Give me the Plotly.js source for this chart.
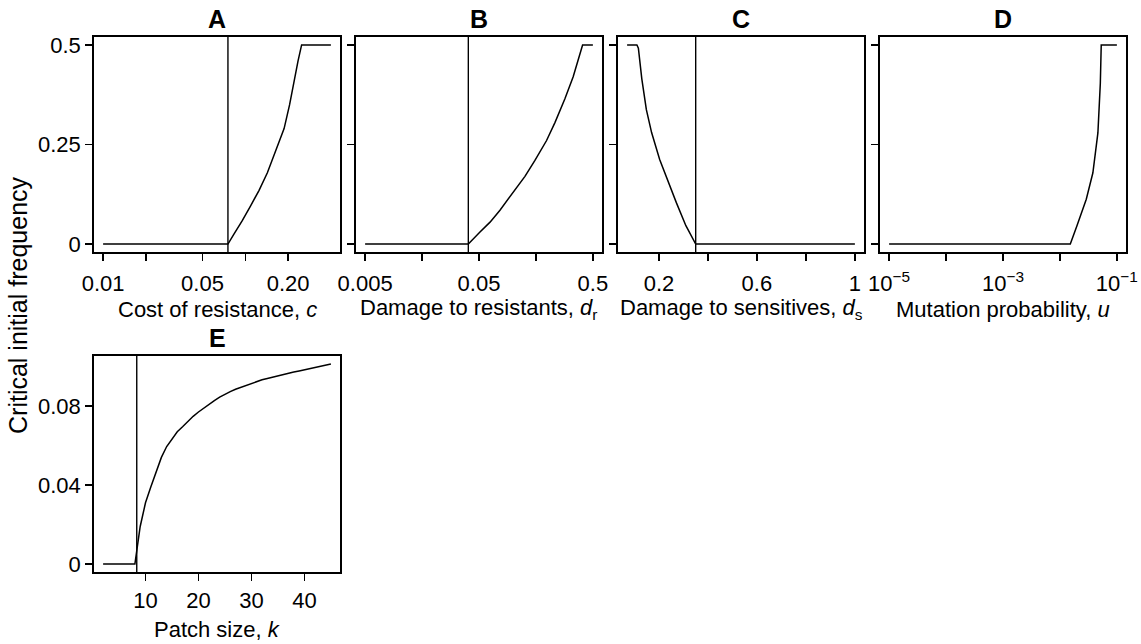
<!DOCTYPE html>
<html>
<head>
<meta charset="utf-8">
<script src="https://cdn.plot.ly/plotly-3.0.1.min.js"></script>
<style>html,body{margin:0;padding:0;background:#fff}#chart{width:1141px;height:644px}</style>
</head>
<body>
<div id="chart"></div>
<script>
// ---- Data ----
const panelLetters = ['A', 'B', 'C', 'D', 'E'];
const xTitles = ['Cost of resistance, <i>c</i>', 'Damage to resistants, <i>d</i><sub>r</sub>',
  'Damage to sensitives, <i>d</i><sub>s</sub>', 'Mutation probability, <i>u</i>', 'Patch size, <i>k</i>'];
const yTitle = 'Critical initial frequency';

const costC = [0.01, 0.02, 0.04, 0.06, 0.0755, 0.0832, 0.095, 0.109, 0.125, 0.143, 0.165, 0.1875, 0.205, 0.221, 0.235, 0.249, 0.3, 0.35, 0.4];
const freqA = [0, 0, 0, 0, 0, 0.025, 0.058, 0.096, 0.135, 0.179, 0.235, 0.29, 0.35, 0.415, 0.46, 0.5, 0.5, 0.5, 0.5];
const thresholdA = 0.0755;

const damageR = [0.005, 0.01, 0.02, 0.03, 0.0403, 0.051, 0.0625, 0.0764, 0.1, 0.1266, 0.1549, 0.196, 0.2321, 0.284, 0.3357, 0.3694, 0.406, 0.45, 0.5];
const freqB = [0, 0, 0, 0, 0, 0.03, 0.055, 0.085, 0.129, 0.17, 0.21, 0.26, 0.305, 0.365, 0.42, 0.46, 0.5, 0.5, 0.5];
const thresholdB = 0.0403;

const damageS = [0.07, 0.09, 0.11, 0.116, 0.121, 0.13, 0.1486, 0.17, 0.2029, 0.23, 0.271, 0.31, 0.35, 0.4, 0.6, 0.8, 1.0];
const freqC = [0.5, 0.5, 0.5, 0.492, 0.465, 0.415, 0.3375, 0.28, 0.2125, 0.168, 0.104, 0.046, 0, 0, 0, 0, 0];
const thresholdC = 0.35;

const mutationU = [1e-5, 1e-4, 1e-3, 0.01, 0.0152, 0.0199, 0.029, 0.0379, 0.0464, 0.0512, 0.0531, 0.06, 0.08, 0.1];
const freqD = [0, 0, 0, 0, 0, 0.046, 0.1125, 0.179, 0.279, 0.404, 0.5, 0.5, 0.5, 0.5];

const patchK = [2,3,4,5,6,7,8,9,10,11,12,13,14,15,16,17,18,19,20,21,22,23,24,25,26,27,28,29,30,31,32,33,34,35,36,37,38,39,40,41,42,43,44,45];
const freqE = [0,0,0,0,0,0,0,0.019,0.031,0.039,0.046,0.054,0.0595,0.0635,0.067,0.0695,0.0722,0.0748,0.077,0.079,0.081,0.0828,0.0845,0.086,0.0873,0.0885,0.0895,0.0905,0.0915,0.0924,0.0933,0.094,0.0947,0.0954,0.096,0.0966,0.0972,0.0978,0.0984,0.099,0.0996,0.1002,0.1008,0.1013];
const thresholdE = 8.35;

const tickValsA = [0.01, 0.02, 0.05, 0.1, 0.2];
const tickTextA = ['0.01', '', '0.05', '', '0.20'];
const tickValsB = [0.005, 0.01581, 0.05, 0.1581, 0.5];
const tickTextB = ['0.005', '', '0.05', '', '0.5'];
const tickValsC = [0.2, 0.4, 0.6, 0.8, 1];
const tickTextC = ['0.2', '', '0.6', '', '1'];
const tickValsD = [1e-5, 1e-4, 1e-3, 1e-2, 1e-1];
const tickTextD = ['10<sup>−5</sup>', '', '10<sup>−3</sup>', '', '10<sup>−1</sup>'];
const tickValsE = [10, 20, 30, 40];
const yTickVals = [0, 0.25, 0.5];
const yTickText = ['0', '0.25', '0.5'];
const yTickValsE = [0, 0.04, 0.08];
const yTickTextE = ['0', '0.04', '0.08'];

// ---- Layout geometry (pixels) ----
const W = 1141, H = 644;
const cols = [[94, 340], [356, 602], [618, 864], [880, 1126]];
const row1 = [37, 252], row2 = [356, 572];
const px = (a) => a / W, py = (b) => 1 - b / H;

const FONT = 'Liberation Sans, Arial, sans-serif';

function xr(lo, hi, log) {
  if (log) { const a = Math.log10(lo), b = Math.log10(hi), d = (b - a) * 0.04; return [a - d, b + d]; }
  const d = (hi - lo) * 0.04; return [lo - d, hi + d];
}
const yr = (lo, hi) => { const d = (hi - lo) * 0.04; return [lo - d, hi + d]; };
const yRangeTop = yr(0, 0.5);
const yRangeE = yr(0, Math.max(...freqE));

function axn(i) { return i === 1 ? '' : String(i); }
function trace(x, y, i, w) {
  return {x: x, y: y, type: 'scatter', mode: 'lines', line: {color: 'black', width: w || 1.5},
    xaxis: 'x' + axn(i), yaxis: 'y' + axn(i), hoverinfo: 'skip', showlegend: false};
}
const data = [
  trace(costC, freqA, 1),
  trace(damageR, freqB, 2),
  trace(damageS, freqC, 3),
  trace(mutationU, freqD, 4),
  trace(patchK, freqE, 5),
  // threshold vertical lines spanning the full panel height
  trace([thresholdA, thresholdA], yRangeTop, 1, 1.4),
  trace([thresholdB, thresholdB], yRangeTop, 2, 1.4),
  trace([thresholdC, thresholdC], yRangeTop, 3, 1.4),
  trace([thresholdE, thresholdE], yRangeE, 5, 1.4)
];

function axisBase() {
  return {showline: true, mirror: true, linewidth: 1.8, linecolor: 'black', ticks: 'outside',
    ticklen: 7, tickwidth: 1.5, tickcolor: 'black', showgrid: false, zeroline: false,
    tickfont: {size: 22, family: FONT, color: 'black'}, fixedrange: true};
}

const layout = {
  width: W, height: H, margin: {l: 0, r: 0, t: 0, b: 0},
  paper_bgcolor: 'white', plot_bgcolor: 'white', showlegend: false,
  font: {family: FONT, color: 'black'},
  annotations: []
};

const xs = [
  Object.assign(axisBase(), {type: 'log', range: xr(costC[0], costC[costC.length - 1], true), tickvals: tickValsA, ticktext: tickTextA}),
  Object.assign(axisBase(), {type: 'log', range: xr(damageR[0], damageR[damageR.length - 1], true), tickvals: tickValsB, ticktext: tickTextB}),
  Object.assign(axisBase(), {type: 'linear', range: xr(damageS[0], damageS[damageS.length - 1], false), tickvals: tickValsC, ticktext: tickTextC}),
  Object.assign(axisBase(), {type: 'log', range: xr(mutationU[0], mutationU[mutationU.length - 1], true), tickvals: tickValsD, ticktext: tickTextD}),
  Object.assign(axisBase(), {type: 'linear', range: xr(patchK[0], patchK[patchK.length - 1], false), tickvals: tickValsE})
];
const ys = [];
for (let i = 0; i < 4; i++) {
  ys.push(Object.assign(axisBase(), {range: yRangeTop, tickvals: yTickVals, ticktext: yTickText, showticklabels: i === 0}));
}
ys.push(Object.assign(axisBase(), {range: yRangeE, tickvals: yTickValsE, ticktext: yTickTextE}));

for (let i = 0; i < 5; i++) {
  const c = i < 4 ? cols[i] : cols[0];
  const r = i < 4 ? row1 : row2;
  xs[i].domain = [px(c[0]), px(c[1])];
  xs[i].anchor = 'y' + axn(i + 1);
  xs[i].ticklabelstandoff = i < 4 ? 4 : 1;
  ys[i].domain = [py(r[1]), py(r[0])];
  ys[i].anchor = 'x' + axn(i + 1);
  layout['xaxis' + axn(i + 1)] = xs[i];
  layout['yaxis' + axn(i + 1)] = ys[i];
  const cx = (c[0] + c[1]) / 2;
  layout.annotations.push({text: '<b>' + panelLetters[i] + '</b>', xref: 'paper', yref: 'paper',
    x: px(cx), y: py(r[0] - 18), xanchor: 'center', yanchor: 'middle', showarrow: false,
    font: {size: 25, family: FONT, color: 'black'}});
  layout.annotations.push({text: xTitles[i], xref: 'paper', yref: 'paper',
    x: px(cx), y: py(r[1] + 57), xanchor: 'center', yanchor: 'middle', showarrow: false,
    font: {size: 22, family: FONT, color: 'black'}});
}
layout.annotations.push({text: yTitle, xref: 'paper', yref: 'paper', x: px(18), y: py(305),
  xanchor: 'center', yanchor: 'middle', textangle: -90, showarrow: false,
  font: {size: 25, family: FONT, color: 'black'}});

Plotly.newPlot('chart', data, layout, {staticPlot: true, displayModeBar: false});
</script>
</body>
</html>
